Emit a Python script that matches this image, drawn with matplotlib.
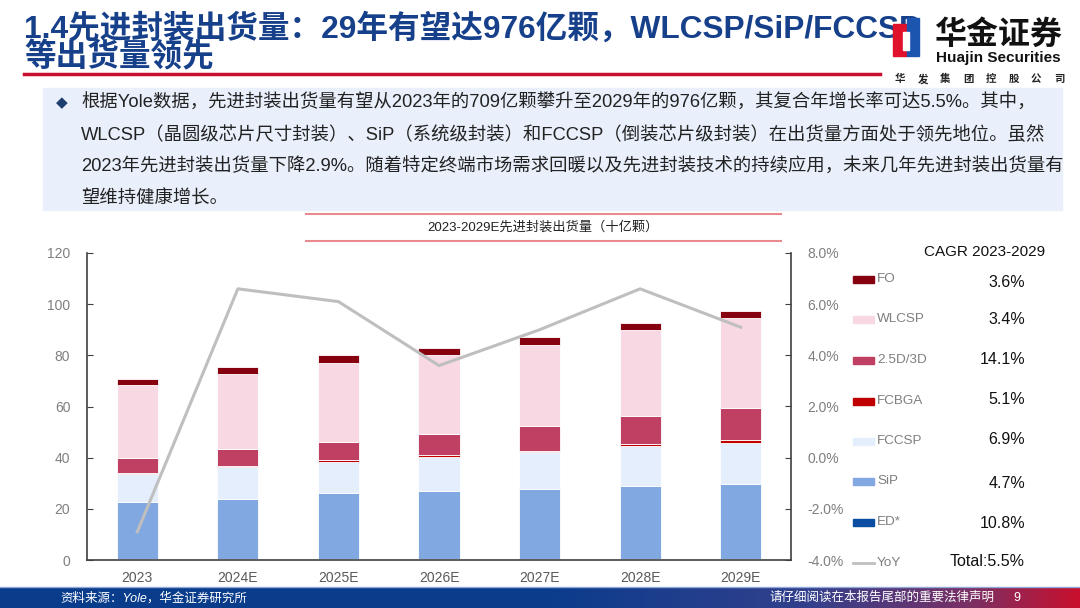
import numpy as np
import matplotlib.pyplot as plt
from matplotlib.colors import LinearSegmentedColormap
from matplotlib.patches import Rectangle

plt.rcParams['font.family'] = ['Liberation Sans', 'Noto Sans CJK SC', 'DejaVu Sans']

years = ['2023', '2024E', '2025E', '2026E', '2027E', '2028E', '2029E']
ed = [0.2, 0.2, 0.2, 0.3, 0.3, 0.4, 0.4]
sip = [22.4, 23.7, 25.8, 26.6, 27.6, 28.6, 29.5]
fccsp = [10.9, 12.3, 12.4, 13.2, 14.3, 15.4, 16.0]
fcbga = [0.6, 0.7, 0.8, 0.9, 0.6, 1.1, 1.1]
d25 = [5.7, 6.6, 7.1, 8.3, 9.5, 10.9, 12.6]
wlcsp = [28.5, 29.3, 30.8, 30.8, 31.8, 33.4, 34.8]
fo = [2.6, 2.8, 3.0, 2.8, 3.1, 2.9, 3.1]
yoy = [-2.9, 6.6, 6.1, 3.6, 5.0, 6.6, 5.1]

seg_names = ['ED*', 'SiP', 'FCCSP', 'FCBGA', '2.5D/3D', 'WLCSP', 'FO']
seg_vals = [ed, sip, fccsp, fcbga, d25, wlcsp, fo]
seg_colors = ['#0B4DA2', '#82A8E2', '#E4EEFC', '#C00000', '#C04064', '#F8D9E3', '#870010']
cagr = ['10.8%', '4.7%', '6.9%', '5.1%', '14.1%', '3.4%', '3.6%']

W, H = 1080, 608
fig = plt.figure(figsize=(10.8, 6.08), dpi=100)

def fx(x):
    return x / W

def fy(y):
    return 1 - y / H

# title
title_c = '#17408B'
fig.text(fx(24), fy(29), '1.4先进封装出货量：29年有望达976亿颗，WLCSP/SiP/FCCSP',
         fontsize=22.8, fontweight='bold', color=title_c, va='center', ha='left')
fig.text(fx(24), fy(58), '等出货量领先', fontsize=22.8, fontweight='bold',
         color=title_c, va='center', ha='left')
fig.add_artist(plt.Line2D([fx(24), fx(880)], [fy(74), fy(74)], color='#C8102E', lw=2.5))

# logo (drawn over the title end, as in the slide)
fig.add_artist(Rectangle((fx(893), fy(56)), fx(14), 32 / H, color='#E0112B', zorder=5))
fig.add_artist(Rectangle((fx(907), fy(56)), fx(12), 38 / H, color='#1C55B0', zorder=5))
fig.add_artist(Rectangle((fx(903), fy(50)), fx(6), 18 / H, color='white', zorder=6))
fig.text(fx(998), fy(35), '华金证券', fontsize=23, fontweight='bold', color='#111111',
         ha='center', va='center', zorder=6)
fig.text(fx(998), fy(58), 'Huajin Securities', fontsize=11, fontweight='bold',
         color='#111111', ha='center', va='center')
for i, ch in enumerate('华发集团控股公司'):
    fig.text(fx(900 + i * 22.7), fy(79), ch, fontsize=7.5, fontweight='bold',
             color='#222222', ha='center', va='center')

# text box
fig.add_artist(Rectangle((fx(43), fy(210)), fx(1019), 122 / H, color='#E9F0FB', zorder=0))
fig.text(fx(62), fy(103), '◆', fontsize=11, color='#1F3E70', ha='center', va='center',
         family=['DejaVu Sans'])
body = ['根据Yole数据，先进封装出货量有望从2023年的709亿颗攀升至2029年的976亿颗，其复合年增长率可达5.5%。其中，',
        'WLCSP（晶圆级芯片尺寸封装）、SiP（系统级封装）和FCCSP（倒装芯片级封装）在出货量方面处于领先地位。虽然',
        '2023年先进封装出货量下降2.9%。随着特定终端市场需求回暖以及先进封装技术的持续应用，未来几年先进封装出货量有',
        '望维持健康增长。']
for i, line in enumerate(body):
    fig.text(fx(81), fy(103 + 32 * i), line, fontsize=13.2, color='#222222',
             ha='left', va='center')

# chart title
fig.add_artist(plt.Line2D([fx(306), fx(781)], [fy(214), fy(214)], color='#E88A8E', lw=1.5))
fig.add_artist(plt.Line2D([fx(306), fx(781)], [fy(241), fy(241)], color='#E88A8E', lw=1.5))
fig.text(fx(543), fy(227), '2023-2029E先进封装出货量（十亿颗）', fontsize=9.5,
         color='#222222', ha='center', va='center')

# chart
ax = fig.add_axes([fx(87), fy(560), fx(791 - 87), (560 - 253) / H])
x = np.arange(len(years))
bottom = np.zeros(len(years))
for name, vals, c in zip(seg_names, seg_vals, seg_colors):
    ax.bar(x, vals, 0.41, bottom=bottom, color=c, edgecolor='white', linewidth=0.6)
    bottom += np.array(vals)
ax.set_xlim(-0.5, 6.5)
ax.set_ylim(0, 120)
ax.set_yticks(range(0, 121, 20))
ax.set_xticks(x)
ax.set_xticklabels(years)
ax.tick_params(axis='x', length=0, pad=8, labelsize=10, labelcolor='#595959')
ax.tick_params(axis='y', direction='in', length=4, pad=12, labelsize=10,
               labelcolor='#7F7F7F', color='#404040')
ax.spines['top'].set_visible(False)
ax.spines['right'].set_visible(False)
for s in ['left', 'bottom']:
    ax.spines[s].set_color('#404040')
    ax.spines[s].set_linewidth(1.2)

ax2 = ax.twinx()
ax2.plot(x, yoy, color='#BFBFBF', lw=2.2)
ax2.set_ylim(-4, 8)
ax2.set_yticks(np.arange(-4, 8.1, 2))
ax2.set_yticklabels(['%.1f%%' % v for v in np.arange(-4, 8.1, 2)])
ax2.tick_params(axis='y', direction='in', length=4, pad=12, labelsize=10,
                labelcolor='#7F7F7F', color='#404040')
for s in ['top', 'left', 'bottom']:
    ax2.spines[s].set_visible(False)
ax2.spines['right'].set_color('#404040')
ax2.spines['right'].set_linewidth(1.2)

# legend + CAGR column
fig.text(fx(985), fy(252), 'CAGR 2023-2029', fontsize=11, color='#111111',
         ha='center', va='center')
leg_y = [522, 481, 441, 401, 360, 319, 279]
val_y = [524, 484, 439, 399, 360, 320, 282]
for name, c, ly, vy, cg in zip(seg_names, seg_colors, leg_y, val_y, cagr):
    fig.add_artist(Rectangle((fx(853), fy(ly + 3.5)), fx(21), 7 / H, color=c))
    fig.text(fx(877), fy(ly), name, fontsize=9.7, color='#7F7F7F', ha='left', va='center')
    fig.text(fx(1025), fy(vy), cg, fontsize=11.5, color='#111111', ha='right', va='center')
fig.add_artist(plt.Line2D([fx(853), fx(874)], [fy(563), fy(563)], color='#BFBFBF', lw=2))
fig.text(fx(877), fy(563), 'YoY', fontsize=9.7, color='#7F7F7F', ha='left', va='center')
fig.text(fx(1025), fy(561), 'Total:5.5%', fontsize=11.5, color='#111111',
         ha='right', va='center')

# footer
grad = LinearSegmentedColormap.from_list('foot', [(0, '#0A3C8C'), (0.5, '#0A3C8C'),
                                                  (0.75, '#33408C'), (0.9, '#7A3064'),
                                                  (1.0, '#C8102E')])
fax = fig.add_axes([0, 0, 1, 20 / H])
fax.imshow(np.linspace(0, 1, 256).reshape(1, -1), cmap=grad, aspect='auto',
           extent=[0, 1, 0, 1])
fax.axis('off')
fig.add_artist(plt.Line2D([0, 1], [fy(587), fy(587)], color='#8FA8D8', lw=1))
fig.text(fx(60), fy(598), '资料来源：Yole，华金证券研究所', fontsize=9, color='white',
         style='italic', ha='left', va='center')
fig.text(fx(770), fy(598), '请仔细阅读在本报告尾部的重要法律声明', fontsize=9,
         color='white', ha='left', va='center')
fig.text(fx(1017), fy(598), '9', fontsize=9, color='white', ha='center', va='center')

fig.savefig('out.png', dpi=100)
